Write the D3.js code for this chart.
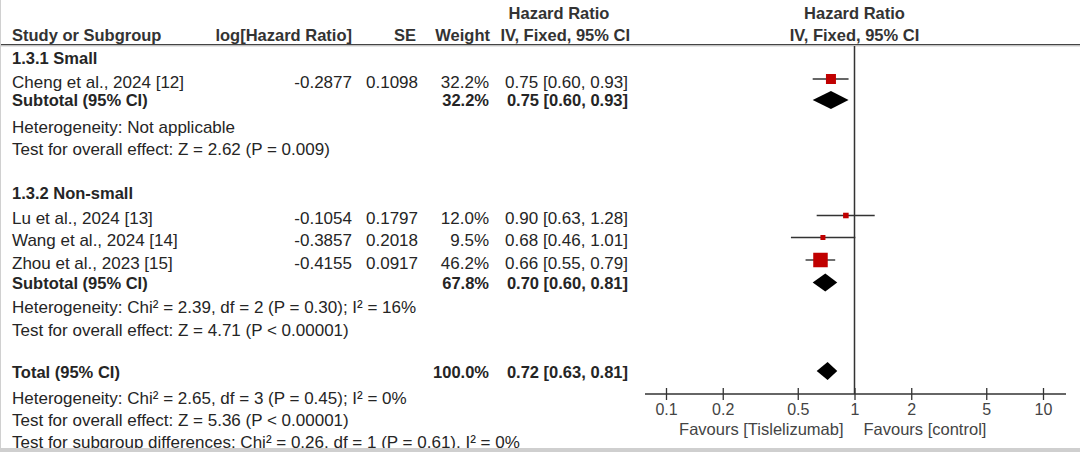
<!DOCTYPE html>
<html><head><meta charset="utf-8">
<script src="https://cdn.jsdelivr.net/npm/d3@7/dist/d3.min.js"></script>
<style>
html,body{margin:0;padding:0;background:#fff;}
svg{display:block;font-family:"Liberation Sans",Arial,sans-serif;}
</style></head>
<body>
<svg id="c" width="1080" height="452"></svg>
<script>
// ---------- data ----------
const studyNames   = ["Cheng et al., 2024 [12]", "Lu et al., 2024 [13]", "Wang et al., 2024 [14]", "Zhou et al., 2023 [15]"];
const logHR        = ["-0.2877", "-0.1054", "-0.3857", "-0.4155"];
const seValues     = ["0.1098", "0.1797", "0.2018", "0.0917"];
const weights      = [32.2, 12.0, 9.5, 46.2];
const hrValues     = [0.75, 0.90, 0.68, 0.66];
const ciLow        = [0.60, 0.63, 0.46, 0.55];
const ciHigh       = [0.93, 1.28, 1.01, 0.79];

const groupNames   = ["1.3.1 Small", "1.3.2 Non-small"];
const subWeights   = [32.2, 67.8];
const subHR        = [0.75, 0.70];
const subLow       = [0.60, 0.60];
const subHigh      = [0.93, 0.81];
const subHet       = ["Heterogeneity: Not applicable", "Heterogeneity: Chi\u00B2 = 2.39, df = 2 (P = 0.30); I\u00B2 = 16%"];
const subTest      = ["Test for overall effect: Z = 2.62 (P = 0.009)", "Test for overall effect: Z = 4.71 (P < 0.00001)"];

const totalWeight  = 100.0;
const totalHR      = 0.72, totalLow = 0.63, totalHigh = 0.81;
const totalNotes   = ["Heterogeneity: Chi\u00B2 = 2.65, df = 3 (P = 0.45); I\u00B2 = 0%",
                      "Test for overall effect: Z = 5.36 (P < 0.00001)",
                      "Test for subgroup differences: Chi\u00B2 = 0.26, df = 1 (P = 0.61), I\u00B2 = 0%"];

const tickValues   = [0.1, 0.2, 0.5, 1, 2, 5, 10];
const favourLeft   = "Favours [Tislelizumab]";
const favourRight  = "Favours [control]";

// ---------- layout ----------
const W = 1080, H = 452;
const svg = d3.select("#c");
const fmt2 = d3.format(".2f");
const fmtW = d => d3.format(".1f")(d) + "%";
const ciText = (h, l, u) => `${fmt2(h)} [${fmt2(l)}, ${fmt2(u)}]`;

const col = {name: 12, log: 352, se: 418, wt: 489, ci: 628};
const x = d3.scaleLog().domain([0.1, 10]).range([666, 1043]);
const sizeScale = d3.scaleLinear().domain([9.5, 32.2, 46.2]).range([5, 10, 14.5]);

const yRow = {
  head1: 13, head2: 35, rule: 45,
  g0: 58, s0: 81.5, sub0: 100.5, het0: 127, test0: 148.5,
  g1: 193, s1: 218, s2: 240, s3: 262.5, sub1: 283, het1: 307, test1: 330,
  total: 372, tn0: 398, tn1: 419.5, tn2: 442
};
const studyRowKeys = ["s0", "s1", "s2", "s3"];
const groupKeys = [["g0", "sub0", "het0", "test0"], ["g1", "sub1", "het1", "test1"]];
const axisY = 394;

const TXT = "#252525";
const FS = 17, FSB = 16.5;
function txt(xp, yp, s, opt = {}) {
  return svg.append("text").attr("x", xp).attr("y", yp).attr("dy", "0.36em")
    .attr("font-size", opt.size || (opt.bold ? FSB : FS))
    .attr("font-weight", opt.bold ? "bold" : "normal")
    .attr("text-anchor", opt.anchor || "start")
    .attr("fill", opt.fill || TXT)
    .text(s);
}

// headers
const hc = "#333";
txt(559, yRow.head1, "Hazard Ratio", {bold: true, anchor: "middle", fill: hc});
txt(col.name, yRow.head2, "Study or Subgroup", {bold: true, fill: hc});
txt(col.log, yRow.head2, "log[Hazard Ratio]", {bold: true, anchor: "end", fill: hc});
txt(col.se - 2, yRow.head2, "SE", {bold: true, anchor: "end", fill: hc});
txt(col.wt + 1, yRow.head2, "Weight", {bold: true, anchor: "end", fill: hc});
txt(col.ci + 2, yRow.head2, "IV, Fixed, 95% CI", {bold: true, anchor: "end", fill: hc});
txt(x(1), yRow.head1, "Hazard Ratio", {bold: true, anchor: "middle", fill: hc});
txt(x(1), yRow.head2, "IV, Fixed, 95% CI", {bold: true, anchor: "middle", fill: hc});

svg.append("line").attr("x1", 0).attr("x2", W).attr("y1", yRow.rule - 0.5).attr("y2", yRow.rule - 0.5).attr("stroke", "#444").attr("stroke-width", 1.2);
svg.append("line").attr("x1", 0).attr("x2", W).attr("y1", yRow.rule + 0.8).attr("y2", yRow.rule + 0.8).attr("stroke", "#aaa").attr("stroke-width", 1);

// line of no effect
svg.append("line").attr("x1", x(1)).attr("x2", x(1)).attr("y1", yRow.rule + 1).attr("y2", axisY)
  .attr("stroke", "#333").attr("stroke-width", 1.5);

// group blocks
groupNames.forEach((g, gi) => {
  const [kg, ksub, khet, ktest] = groupKeys[gi];
  txt(col.name, yRow[kg], g, {bold: true});
  txt(col.name, yRow[ksub], "Subtotal (95% CI)", {bold: true});
  txt(col.wt, yRow[ksub], fmtW(subWeights[gi]), {bold: true, anchor: "end"});
  txt(col.ci, yRow[ksub], ciText(subHR[gi], subLow[gi], subHigh[gi]), {bold: true, anchor: "end"});
  txt(col.name, yRow[khet], subHet[gi]);
  txt(col.name, yRow[ktest], subTest[gi]);
});

// studies
studyNames.forEach((n, i) => {
  const yk = yRow[studyRowKeys[i]];
  txt(col.name, yk, n);
  txt(col.log, yk, logHR[i], {anchor: "end"});
  txt(col.se, yk, seValues[i], {anchor: "end"});
  txt(col.wt, yk, fmtW(weights[i]), {anchor: "end"});
  txt(col.ci, yk, ciText(hrValues[i], ciLow[i], ciHigh[i]), {anchor: "end"});
  const my = yk - 2.5;
  svg.append("line").attr("x1", x(ciLow[i])).attr("x2", x(ciHigh[i])).attr("y1", my).attr("y2", my)
    .attr("stroke", "#333").attr("stroke-width", 1.4);
  const s = sizeScale(weights[i]);
  svg.append("rect").attr("x", x(hrValues[i]) - s / 2).attr("y", my - s / 2).attr("width", s).attr("height", s)
    .attr("fill", "#c00000");
});

// diamonds
function diamond(h, l, u, yc) {
  const hh = 9;
  svg.append("path")
    .attr("d", `M${x(l)},${yc} L${x(h)},${yc - hh} L${x(u)},${yc} L${x(h)},${yc + hh} Z`)
    .attr("fill", "#000");
}
subHR.forEach((h, gi) => diamond(h, subLow[gi], subHigh[gi], yRow[groupKeys[gi][1]] - 0.5));
diamond(totalHR, totalLow, totalHigh, yRow.total - 1);

// total
txt(col.name, yRow.total, "Total (95% CI)", {bold: true});
txt(col.wt, yRow.total, fmtW(totalWeight), {bold: true, anchor: "end"});
txt(col.ci, yRow.total, ciText(totalHR, totalLow, totalHigh), {bold: true, anchor: "end"});
["tn0", "tn1", "tn2"].forEach((k, i) => txt(col.name, yRow[k], totalNotes[i]));

// axis
const ax = svg.append("g").attr("transform", `translate(0,${axisY})`)
  .call(d3.axisBottom(x).tickValues(tickValues).tickFormat(d3.format("")).tickSize(6).tickPadding(4));
ax.select(".domain").remove();
ax.selectAll(".tick line").attr("y1", -6).attr("stroke", "#333").attr("stroke-width", 1.3);
ax.selectAll(".tick text").attr("font-size", 16).attr("fill", "#444")
  .attr("font-family", "'Liberation Sans',Arial,sans-serif");
svg.append("line").attr("x1", x.range()[0] - 21).attr("x2", x.range()[1] + 23)
  .attr("y1", axisY).attr("y2", axisY).attr("stroke", "#333").attr("stroke-width", 1.3);

txt(x(1) - 11, 429, favourLeft, {anchor: "end", size: 16.5, fill: "#444"});
txt(x(1) + 9, 429, favourRight, {size: 16.5, fill: "#444"});

// frame (drawn last so the bottom band clips the last line like the original)
svg.append("line").attr("x1", 0.5).attr("x2", 0.5).attr("y1", 0).attr("y2", H).attr("stroke", "#d0d0d0");
svg.append("rect").attr("x", 0).attr("y", 448).attr("width", W).attr("height", 4).attr("fill", "#cfcfcf");
</script>
</body></html>
